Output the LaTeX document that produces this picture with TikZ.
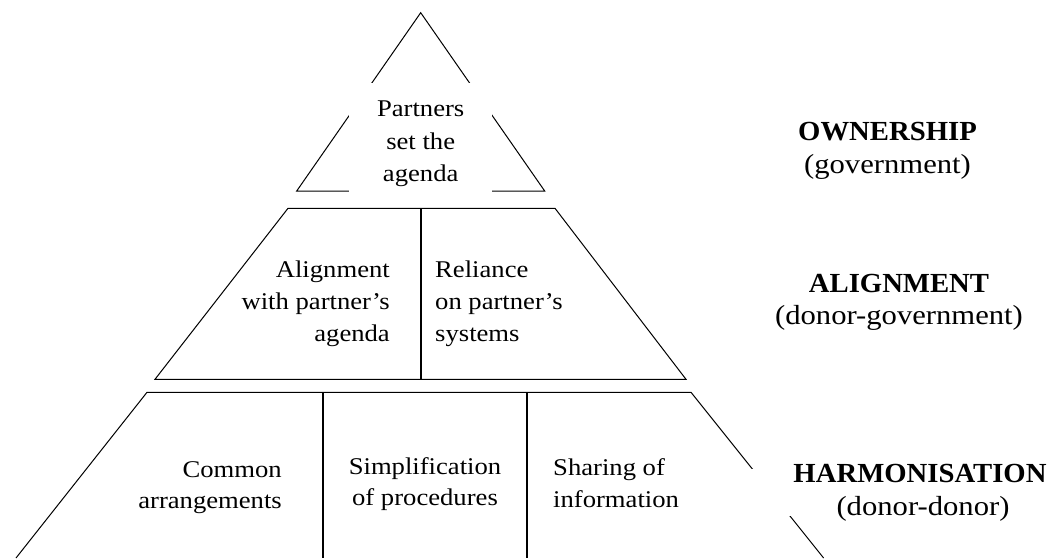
\documentclass[tikz,border=0pt]{standalone}
\usepackage{fontspec}
\setmainfont{Liberation Serif}[FakeStretch=1.11]
\newfontfamily\labbold{Liberation Serif Bold}[FakeStretch=1.04]
\begin{document}
\begin{tikzpicture}[x=1pt,y=-1pt,
  edge/.style={line width=1pt, black},
  divider/.style={line width=1.1pt, black},
  cellc/.style={inner sep=0pt, anchor=base, font=\fontsize{24}{32}\selectfont},
  cellr/.style={cellc, anchor=base east},
  celll/.style={cellc, anchor=base west},
  labhead/.style={inner sep=0pt, anchor=base, font=\labbold\fontsize{27.6}{35}\selectfont},
  labsub/.style={inner sep=0pt, anchor=base, font=\fontsize{27.6}{35}\selectfont}]
\useasboundingbox (0,0) rectangle (1058,558);
\clip (0,0) rectangle (1058,558);

% top triangle
\coordinate (tA) at (420.7,12.7);
\coordinate (tL) at (296.7,191);
\coordinate (tR) at (544.7,191);
\draw[edge] (tA) -- (tR) -- (tL) -- cycle;
\fill[white] (349,83) rectangle (492.4,199);

% middle trapezoid
\coordinate (mTL) at (288,208.3);
\coordinate (mTR) at (555,208.3);
\coordinate (mBR) at (686,379.3);
\coordinate (mBL) at (155,379.3);
\coordinate (mDT) at (421,208.3);
\coordinate (mDB) at (421,379.3);
\draw[edge] (mTL) -- (mTR) -- (mBR) -- (mBL) -- cycle;
\draw[divider] (mDT) -- (mDB);

% bottom trapezoid
\coordinate (bTL) at (147,392.3);
\coordinate (bTR) at (691,392.3);
\coordinate (bBL) at (16,558);
\coordinate (bBR) at (823.6,558);
\coordinate (bD1T) at (323,392.3);
\coordinate (bD1B) at (323,558);
\coordinate (bD2T) at (527,392.3);
\coordinate (bD2B) at (527,558);
\draw[edge] (bBL) -- (bTL) -- (bTR) -- (bBR);
\draw[divider] (bD1T) -- (bD1B);
\draw[divider] (bD2T) -- (bD2B);
\fill[white] (740,469) rectangle (1058,516);

% top text
\node[cellc] (t1) at (420.7,116.7) {Partners};
\node[cellc] (t2) at (420.7,149) {set the};
\node[cellc] (t3) at (420.7,181) {agenda};

% middle text
\node[cellr] (ml1) at (390,277) {Alignment};
\node[cellr] (ml2) at (390,309) {with partner’s};
\node[cellr] (ml3) at (390,341) {agenda};
\node[celll] (mr1) at (435,277) {Reliance};
\node[celll] (mr2) at (435,309) {on partner’s};
\node[celll] (mr3) at (435,341) {systems};

% bottom text
\node[cellr] (bl1) at (282,477) {Common};
\node[cellr] (bl2) at (282,508) {arrangements};
\node[cellc] (bm1) at (425,474) {Simplification};
\node[cellc] (bm2) at (425,505) {of procedures};
\node[celll] (br1) at (553,475) {Sharing of};
\node[celll] (br2) at (553,507) {information};

% right labels
\node[labhead] (own) at (887.5,140) {OWNERSHIP};
\node[labsub] (owns) at (887.5,173) {(government)};
\node[labhead] (ali) at (899,292) {ALIGNMENT};
\node[labsub] (alis) at (899,324) {(donor-government)};
\node[labhead] (har) at (920,482) {HARMONISATION};
\node[labsub] (hars) at (923,515) {(donor-donor)};
\end{tikzpicture}
\end{document}
